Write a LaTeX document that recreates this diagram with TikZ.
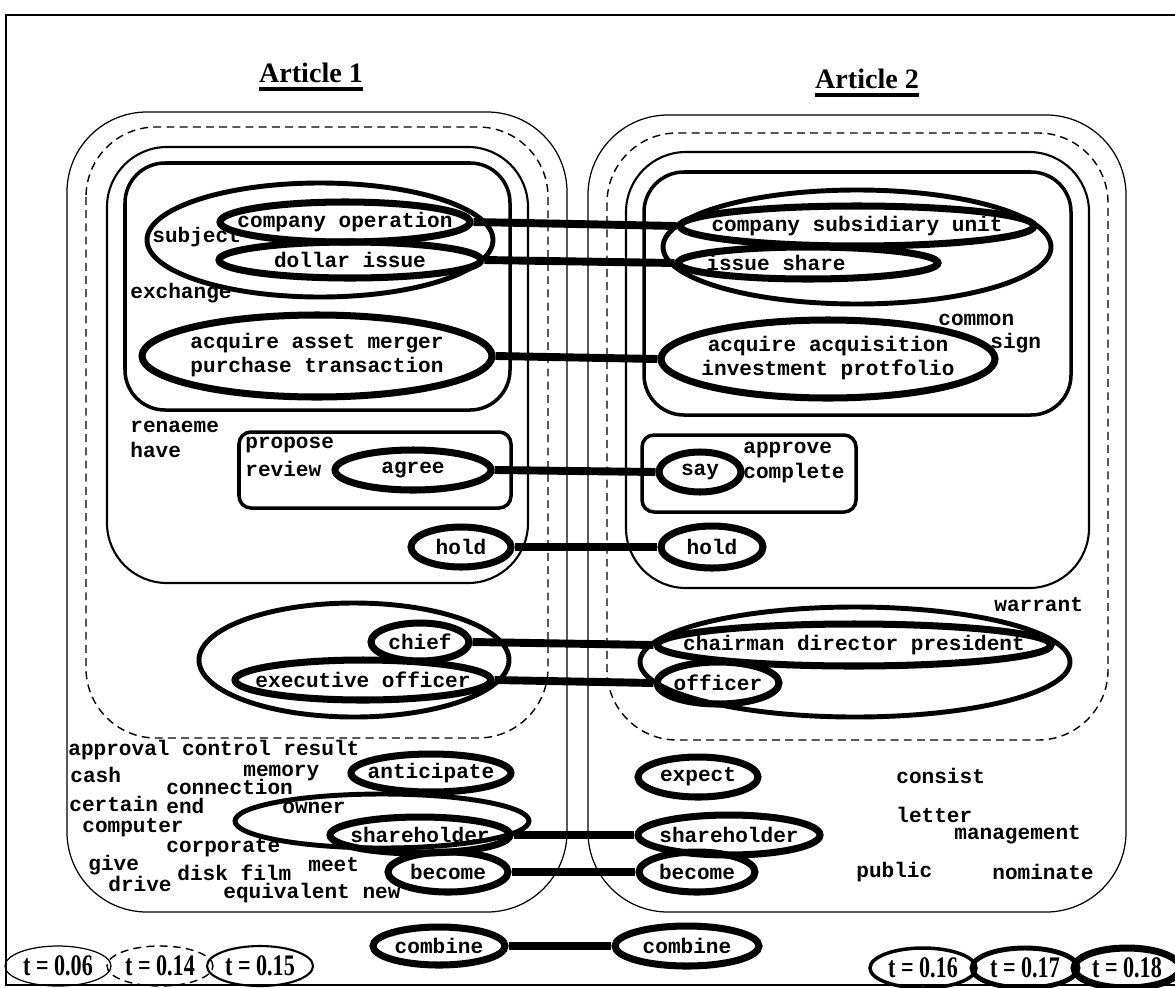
\documentclass[tikz,border=0pt]{standalone}
\usepackage{fontspec}
\setmainfont{Liberation Mono}
\newfontfamily\titlefont{Liberation Serif}
\newfontfamily\legendfont[FakeStretch=0.74]{Liberation Serif}
\usetikzlibrary{shapes.geometric}

\begin{document}
\begin{tikzpicture}[x=0.02cm, y=-0.02cm,
  every node/.style = {font=\bfseries\fontsize{12}{13.6}\selectfont},
  word/.style = {anchor=west, inner sep=0pt},
  dims/.style 2 args = {minimum width=#1*0.02cm, minimum height=#2*0.02cm},
  main/.style = {draw, ellipse, inner sep=0pt, line width=4pt},
  group/.style = {draw, ellipse, inner sep=0pt, line width=2.8pt},
  title/.style = {anchor=base, inner sep=0pt, font=\titlefont\bfseries\fontsize{16}{18}\selectfont},
  legend/.style = {draw, ellipse, inner sep=0pt, dims={106}{40}, font=\legendfont\bfseries\fontsize{17}{18}\selectfont},
  t06/.style = {line width=0.7pt, rounded corners=1.6cm},
  t14/.style = {line width=0.8pt, dash pattern=on 4.5pt off 3pt, rounded corners=1.4cm},
  t15/.style = {line width=1.2pt, rounded corners=1.2cm},
  t16/.style = {line width=2pt, rounded corners=0.8cm},
  link/.style = {line width=4.5pt}]
  \useasboundingbox[fill=white] (0,0) rectangle (1175,987);
  \draw[line width=1.1pt] (6,15) rectangle (1182,985);

  \node[title] at (311,82) (h1) {Article 1};
  \node[title] at (867,88) (h2) {Article 2};
  \draw[line width=2pt] ([yshift=-4pt]h1.base west) -- ([yshift=-4pt]h1.base east);
  \draw[line width=2pt] ([yshift=-4pt]h2.base west) -- ([yshift=-4pt]h2.base east);

  \draw[t06] (67,112) rectangle (567,912);
  \draw[t14] (86,127) rectangle (548,738);
  \draw[t15] (107,147) rectangle (528,583);
  \draw[t16] (125,163) rectangle (510,410);
  \draw[t16, rounded corners=0.24cm] (239,432) rectangle (511,508);

  \draw[t06] (588,115) rectangle (1126,912);
  \draw[t14] (607,133) rectangle (1108,740);
  \draw[t15] (626,152) rectangle (1089,588);
  \draw[t16] (644,172) rectangle (1071,415);
  \draw[t16, rounded corners=0.24cm] (642,435) rectangle (856,512);

  \node[group, dims={346}{114}] at (320,240) (g1) {};
  \node[main, dims={250}{40}] at (345,222) (a1) {\makebox[0pt]{company operation}};
  \node[main, dims={262}{36}] at (350,260) (a2) {\makebox[0pt]{dollar issue}};
  \node[main, dims={350}{82}] at (317,356) (a3) {\makebox[0pt]{\begin{tabular}{@{}c@{}}acquire asset merger\\purchase transaction\end{tabular}}};
  \node[main, dims={156}{40}] at (413,470) (a4) {\makebox[0pt]{agree}};
  \node[main, dims={100}{40}] at (461,547) (a5) {\makebox[0pt]{hold}};
  \node[group, dims={310}{114}] at (354,660) (g2) {};
  \node[main, dims={98}{38}] at (420,642) (a6) {\makebox[0pt]{chief}};
  \node[main, dims={256}{40}] at (363,680) (a7) {\makebox[0pt]{executive officer}};
  \node[main, dims={160}{38}] at (431,773) (a8) {\makebox[0pt]{anticipate}};
  \node[group, dims={294}{54}] at (382,821) (g3) {};
  \node[main, dims={180}{36}] at (420,835) (a9) {\makebox[0pt]{shareholder}};
  \node[main, dims={120}{40}] at (448,872) (a10) {\makebox[0pt]{become}};
  \node[main, dims={132}{38}] at (439,946) (a11) {\makebox[0pt]{combine}};

  \node[group, dims={388}{114}] at (857,247) (g4) {};
  \node[main, dims={354}{40}] at (857,226) (b1) {\makebox[0pt]{company subsidiary unit}};
  \node[main, dims={260}{32}] at (808,263) (b2) {\makebox[0pt]{issue share\hspace{1.28cm}}};
  \node[main, dims={334}{78}] at (828,359) (b3) {\makebox[0pt]{\begin{tabular}{@{}c@{}}acquire acquisition\\investment protfolio\end{tabular}}};
  \node[main, dims={82}{40}] at (700,472) (b4) {\makebox[0pt]{say}};
  \node[main, dims={102}{42}] at (712,547) (b5) {\makebox[0pt]{hold}};
  \node[group, dims={430}{110}] at (855,662) (g5) {};
  \node[main, dims={394}{42}] at (854,645) (b6) {\makebox[0pt]{chairman director president}};
  \node[main, dims={122}{42}] at (718,683) (b7) {\makebox[0pt]{officer}};
  \node[main, dims={120}{40}] at (698,777) (b8) {\makebox[0pt]{expect}};
  \node[main, dims={182}{40}] at (729,835) (b9) {\makebox[0pt]{shareholder}};
  \node[main, dims={116}{40}] at (697,872) (b10) {\makebox[0pt]{become}};
  \node[main, dims={144}{40}] at (687,946) (b11) {\makebox[0pt]{combine}};

  \draw[link] (a1.east) -- (b1.west);
  \draw[link] (a2.east) -- (b2.west);
  \draw[link] (a3.east) -- (b3.west);
  \draw[link] (a4.east) -- (b4.west);
  \draw[link] (a5.east) -- (b5.west);
  \draw[link] (a6.east) -- (b6.west);
  \draw[link] (a7.east) -- (b7.west);
  \draw[link] (a9.east) -- (b9.west);
  \draw[link] (a10.east) -- (b10.west);
  \draw[link] (a11.east) -- (b11.west);

  \node[word] at (152,237) (w1) {subject};
  \node[word] at (130,293) (w2) {exchange};
  \node[word] at (130,427) (w3) {renaeme};
  \node[word] at (130,450) (w4) {have};
  \node[word] at (245,445) (w5) {propose};
  \node[word] at (245,469) (w6) {review};
  \node[word] at (938,320) (w7) {common};
  \node[word] at (990,343) (w8) {sign};
  \node[word] at (743,450) (w9) {approve};
  \node[word] at (743,473) (w10) {complete};
  \node[word] at (994,605) (w11) {warrant};

  \node[word] at (68,750) (w12) {approval control result};
  \node[word] at (70,775) (w13) {cash};
  \node[word] at (243,773) (w14) {memory};
  \node[word] at (166,787) (w15) {connection};
  \node[word] at (69,804) (w16) {certain};
  \node[word] at (166,806) (w17) {end};
  \node[word] at (282,808) (w18) {owner};
  \node[word] at (82,828) (w19) {computer};
  \node[word] at (166,848) (w20) {corporate};
  \node[word] at (88,865) (w21) {give};
  \node[word] at (308,865) (w22) {meet};
  \node[word] at (108,884) (w23) {drive};
  \node[word] at (177,873) (w24) {disk film};
  \node[word] at (223,893) (w25) {equivalent new};

  \node[word] at (896,776) (w26) {consist};
  \node[word] at (896,815) (w27) {letter};
  \node[word] at (954,835) (w28) {management};
  \node[word] at (856,872) (w29) {public};
  \node[word] at (992,872) (w30) {nominate};

  \node[legend, line width=0.7pt] at (58,966) (l1) {t = 0.06};
  \node[legend, line width=0.8pt, dash pattern=on 4.5pt off 3pt] at (160,966) (l2) {t = 0.14};
  \node[legend, line width=1.2pt] at (260,966) (l3) {t = 0.15};
  \node[legend, line width=2pt] at (923,968) (l4) {t = 0.16};
  \node[legend, line width=2.8pt] at (1025,968) (l5) {t = 0.17};
  \node[legend, line width=4pt] at (1127,968) (l6) {t = 0.18};
\end{tikzpicture}
\end{document}
